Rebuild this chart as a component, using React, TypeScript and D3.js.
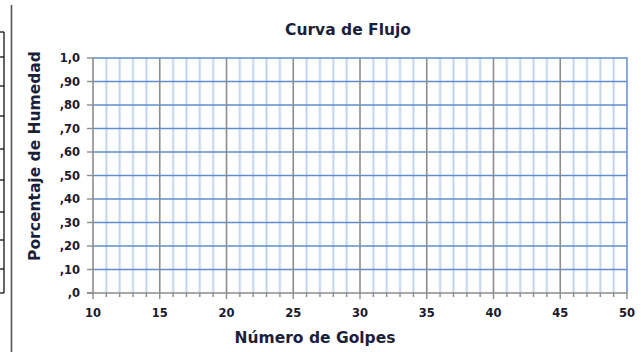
import React from "react";
import * as d3 from "d3";

const W = 641;
const H = 352;

const title = "Curva de Flujo";
const xTitle = "Número de Golpes";
const yTitle = "Porcentaje de Humedad";
const xDomain = [10, 50];
const yDomain = [0, 1];
const xMajorTicks = [10, 15, 20, 25, 30, 35, 40, 45, 50];
const xMinorTicks = d3.range(10, 51, 1);
const yTicks = [0, 0.1, 0.2, 0.3, 0.4, 0.5, 0.6, 0.7, 0.8, 0.9, 1.0];
const yTickLabels = [",0", ",10", ",20", ",30", ",40", ",50", ",60", ",70", ",80", ",90", "1,0"];
const sideTableRows = [32, 57, 86, 116, 149, 180, 212, 240, 269, 293];

export default function App() {
  const x = d3.scaleLinear().domain(xDomain).range([93, 627]);
  const y = d3.scaleLinear().domain(yDomain).range([293, 58]);
  const font = "'DejaVu Sans', Verdana, sans-serif";
  const minorV = xMinorTicks.filter((v) => v % 5 !== 0);
  const majorV = xMajorTicks.filter((v) => v !== 10 && v !== 50);

  return (
    <svg
      width={W}
      height={H}
      style={{ position: "absolute", left: 0, top: 0, display: "block", background: "#fff" }}
    >
      {/* left side table fragment */}
      <g stroke="#000" strokeWidth={1.2} fill="none">
        <line x1={4} x2={4} y1={32} y2={293} />
        {sideTableRows.map((r) => (
          <line key={r} x1={0} x2={4} y1={r} y2={r} />
        ))}
      </g>
      <line x1={11.5} x2={11.5} y1={5} y2={H} stroke="#555" strokeWidth={1.6} />

      {/* minor vertical gridlines */}
      <g>
        {minorV.map((v) => (
          <g key={v}>
            <line x1={x(v)} x2={x(v)} y1={y(1)} y2={y(0)} stroke="#e3ebf7" strokeWidth={3} />
            <line x1={x(v)} x2={x(v)} y1={y(1)} y2={y(0)} stroke="#bccfec" strokeWidth={1} />
          </g>
        ))}
      </g>
      {/* horizontal gridlines */}
      <g>
        {yTicks.filter((v) => v > 0).map((v) => (
          <line key={v} x1={x(10)} x2={x(50)} y1={y(v)} y2={y(v)} stroke="#5f8ecc" strokeWidth={1.6} />
        ))}
      </g>
      {/* major vertical gridlines */}
      <g>
        {majorV.map((v) => (
          <line key={v} x1={x(v)} x2={x(v)} y1={y(1)} y2={y(0)} stroke="#8c8c8c" strokeWidth={1.6} />
        ))}
      </g>
      {/* right border */}
      <line x1={x(50)} x2={x(50)} y1={y(1) - 0.8} y2={y(0)} stroke="#6a96d0" strokeWidth={1.6} />

      {/* axes */}
      <line x1={x(10)} x2={x(10)} y1={y(1)} y2={y(0)} stroke="#8c8c8c" strokeWidth={1.6} />
      <line x1={x(10) - 6} x2={x(50)} y1={y(0)} y2={y(0)} stroke="#8c8c8c" strokeWidth={1.6} />
      {yTicks.map((v) => (
        <line key={v} x1={x(10) - 6} x2={x(10)} y1={y(v)} y2={y(v)} stroke="#8c8c8c" strokeWidth={1.4} />
      ))}
      {xMinorTicks.map((v) => (
        <line key={v} x1={x(v)} x2={x(v)} y1={y(0)} y2={y(0) + (v % 5 === 0 ? 6 : 4)} stroke="#8c8c8c" strokeWidth={1.4} />
      ))}

      {/* tick labels */}
      <g fontFamily={font} fontWeight="bold" fontSize={11.5} fill="#1a1a2e">
        {yTicks.map((v, i) => (
          <text key={v} x={80} y={y(v)} dy="0.35em" textAnchor="end">
            {yTickLabels[i]}
          </text>
        ))}
        {xMajorTicks.map((v) => (
          <text key={v} x={x(v)} y={313} dy="0.35em" textAnchor="middle">
            {v}
          </text>
        ))}
      </g>

      {/* titles */}
      <text x={348} y={30} dy="0.35em" textAnchor="middle" fontFamily={font} fontWeight="bold" fontSize={15.5} fill="#1a1f3a">
        {title}
      </text>
      <text x={315} y={338} dy="0.35em" textAnchor="middle" fontFamily={font} fontWeight="bold" fontSize={15.5} fill="#1a1f3a">
        {xTitle}
      </text>
      <text
        transform={`translate(35,156) rotate(-90)`}
        dy="0.35em"
        textAnchor="middle"
        fontFamily={font}
        fontWeight="bold"
        fontSize={15.5}
        fill="#1a1f3a"
      >
        {yTitle}
      </text>
    </svg>
  );
}
